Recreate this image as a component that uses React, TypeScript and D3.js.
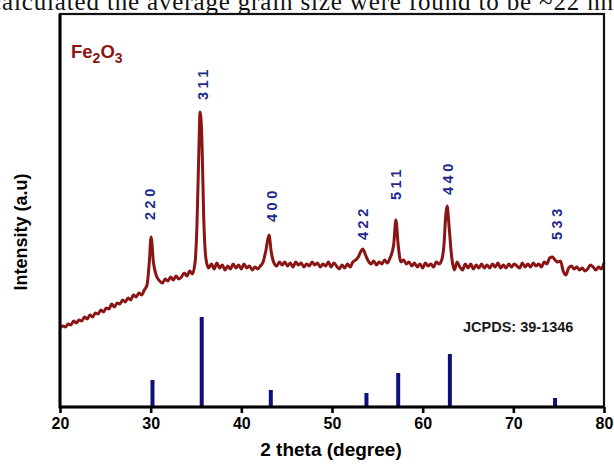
import { useEffect, useRef } from 'react'
import * as d3 from 'd3'

// XRD pattern (2θ in degrees, intensity in a.u.)
const xrdTheta = [
  20.0, 20.3, 20.6, 20.9, 21.2, 21.5, 21.8, 22.1, 22.4, 22.7, 23.0, 23.3, 23.6, 23.9, 24.2, 24.5,
  24.8, 25.1, 25.4, 25.7, 26.0, 26.3, 26.6, 26.9, 27.2, 27.5, 27.8, 28.1, 28.4, 28.7, 29.0, 29.3,
  29.6, 29.85, 30.05, 30.3, 30.6, 30.9, 31.3, 31.6, 31.9, 32.2, 32.5, 32.8, 33.1, 33.4, 33.7, 34.0,
  34.3, 34.6, 34.9, 35.1, 35.3, 35.45, 35.65, 35.85, 36.1, 36.4, 36.7, 37.0, 37.3, 37.6, 37.9, 38.2,
  38.5, 38.8, 39.1, 39.4, 39.7, 40.0, 40.3, 40.6, 40.9, 41.2, 41.5, 41.8, 42.1, 42.4, 42.7, 43.05,
  43.3, 43.6, 43.9, 44.2, 44.5, 44.8, 45.1, 45.4, 45.7, 46.0, 46.3, 46.6, 46.9, 47.2, 47.5, 47.8,
  48.1, 48.4, 48.7, 49.0, 49.3, 49.6, 49.9, 50.2, 50.5, 50.8, 51.1, 51.4, 51.7, 52.0, 52.3, 52.6,
  52.9, 53.15, 53.4, 53.7, 54.0, 54.3, 54.6, 54.9, 55.2, 55.5, 55.8, 56.1, 56.4, 56.8, 57.05, 57.3,
  57.6, 57.9, 58.2, 58.5, 58.8, 59.1, 59.4, 59.7, 60.0, 60.3, 60.6, 60.9, 61.2, 61.5, 61.8, 62.1,
  62.35, 62.55, 62.7, 62.9, 63.2, 63.5, 63.8, 64.1, 64.4, 64.7, 65.0, 65.3, 65.6, 65.9, 66.2, 66.5,
  66.8, 67.1, 67.4, 67.7, 68.0, 68.3, 68.6, 68.9, 69.2, 69.5, 69.8, 70.1, 70.4, 70.7, 71.0, 71.3,
  71.6, 71.9, 72.2, 72.5, 72.8, 73.1, 73.4, 73.7, 74.0, 74.3, 74.6, 74.9, 75.2, 75.5, 75.8, 76.1,
  76.4, 76.7, 77.0, 77.3, 77.6, 77.9, 78.2, 78.5, 78.8, 79.1, 79.4, 79.7, 80.0,
]
const xrdIntensity = [
  79, 81, 80, 83, 82, 86, 84, 87, 86, 90, 88, 92, 90, 94, 93, 97,
  95, 99, 98, 103, 100, 104, 103, 107, 105, 109, 107, 112, 110, 114, 112, 117,
  122, 145, 170, 145, 132, 127, 124, 128, 126, 130, 127, 131, 128, 130, 134, 131,
  136, 133, 145, 180, 250, 295, 268, 190, 148, 139, 143, 138, 144, 139, 142, 137,
  141, 138, 143, 139, 142, 138, 143, 139, 141, 137, 140, 138, 141, 145, 156, 172,
  155, 144, 141, 145, 142, 145, 141, 144, 140, 145, 142, 144, 140, 143, 141, 145,
  142, 144, 140, 143, 141, 145, 140, 144, 141, 138, 142, 139, 143, 140, 145, 147,
  150, 155, 158, 152, 146, 143, 146, 142, 145, 143, 147, 144, 149, 162, 187, 162,
  145, 147, 143, 145, 141, 144, 140, 143, 139, 144, 141, 143, 140, 145, 143, 147,
  162, 192, 201, 182, 150, 137, 145, 140, 137, 143, 139, 143, 138, 142, 139, 143,
  139, 142, 139, 143, 140, 144, 139, 142, 139, 143, 140, 143, 141, 139, 144, 140,
  143, 140, 144, 141, 143, 140, 145, 143, 149, 150, 147, 145, 146, 136, 132, 139,
  141, 138, 140, 137, 139, 136, 138, 142, 140, 137, 140, 138, 144,
]

// JCPDS 39-1346 reference lines
const stickTheta = [30.2, 35.63, 43.25, 53.8, 57.3, 63.0, 74.6]
const stickIntensity = [27, 90, 17, 14, 34, 53, 9]

// hkl labels and the intensity level where each label starts
const hklLabels = ['220', '311', '400', '422', '511', '440', '533']
const labelTheta = [29.95, 35.75, 43.35, 53.4, 57.05, 62.8, 74.8]
const labelLevel = [187, 307, 185, 167, 207, 212, 167]

const xTicks = [20, 30, 40, 50, 60, 70, 80]

const App = () => {
  const svgRef = useRef<SVGSVGElement | null>(null)

  useEffect(() => {
    const svg = d3.select(svgRef.current)
    svg.selectAll('*').remove()

    const width = 614
    const height = 465
    const left = 60
    const right = 604
    const top = 14
    const bottom = 407

    const xScale = d3.scaleLinear().domain([20, 80]).range([left, right])
    const yScale = d3.scaleLinear().domain([0, 393]).range([bottom, top])

    svg.attr('width', width).attr('height', height).attr('viewBox', `0 0 ${width} ${height}`)
    svg.append('rect').attr('width', width).attr('height', height).attr('fill', '#fff')

    // line of body text above the figure (cropped in the original scan)
    svg
      .append('text')
      .attr('x', -10)
      .attr('y', 10)
      .attr('textLength', 630)
      .attr('lengthAdjust', 'spacing')
      .attr('font-family', '"Liberation Serif", "Times New Roman", serif')
      .attr('font-size', 25)
      .attr('fill', '#111')
      .text('calculated the average grain size were found to be ~22 nm')

    // reference sticks
    svg
      .append('g')
      .selectAll('rect')
      .data(stickTheta)
      .join('rect')
      .attr('x', (d) => xScale(d) - 2)
      .attr('y', (_, i) => yScale(stickIntensity[i]))
      .attr('width', 4)
      .attr('height', (_, i) => bottom - yScale(stickIntensity[i]))
      .attr('fill', '#10107a')

    // measured pattern
    const points = xrdTheta.map((t, i) => [t, xrdIntensity[i]] as [number, number])
    const line = d3
      .line<[number, number]>()
      .x((d) => xScale(d[0]))
      .y((d) => yScale(d[1]))
      .curve(d3.curveMonotoneX)

    svg
      .append('path')
      .datum(points)
      .attr('fill', 'none')
      .attr('stroke', '#8b1414')
      .attr('stroke-width', 3)
      .attr('stroke-linejoin', 'round')
      .attr('d', line)

    // hkl labels
    svg
      .append('g')
      .selectAll('text')
      .data(hklLabels)
      .join('text')
      .attr('transform', (_, i) => `translate(${xScale(labelTheta[i])},${yScale(labelLevel[i])}) rotate(-90)`)
      .attr('dominant-baseline', 'central')
      .attr('font-family', 'Arial, "Liberation Sans", sans-serif')
      .attr('font-weight', 'bold')
      .attr('font-size', 14.5)
      .attr('letter-spacing', 3.5)
      .attr('fill', '#1f2a8c')
      .text((d) => d)

    // frame
    svg
      .append('rect')
      .attr('x', left)
      .attr('y', top)
      .attr('width', right - left)
      .attr('height', bottom - top)
      .attr('fill', 'none')
      .attr('stroke', '#111')
      .attr('stroke-width', 2.2)
    svg
      .append('path')
      .attr('d', `M${left},${top}V${bottom}H${right}`)
      .attr('fill', 'none')
      .attr('stroke', '#000')
      .attr('stroke-width', 3)

    // x axis ticks and labels
    const xAxis = d3
      .axisBottom(xScale)
      .tickValues(xTicks)
      .tickSize(6)
      .tickPadding(5)
      .tickFormat((d) => String(d))
    const axisG = svg.append('g').attr('transform', `translate(0,${bottom})`).call(xAxis)
    axisG.select('.domain').remove()
    axisG.selectAll('line').attr('stroke', '#000').attr('stroke-width', 2.6)
    axisG
      .selectAll('text')
      .attr('fill', '#000')
      .attr('font-family', 'Arial, "Liberation Sans", sans-serif')
      .attr('font-weight', 'bold')
      .attr('font-size', 16)

    svg
      .append('text')
      .attr('x', 331)
      .attr('y', 456)
      .attr('text-anchor', 'middle')
      .attr('font-family', 'Arial, "Liberation Sans", sans-serif')
      .attr('font-weight', 'bold')
      .attr('font-size', 19)
      .attr('fill', '#000')
      .text('2 theta (degree)')

    svg
      .append('text')
      .attr('transform', 'translate(27,232) rotate(-90)')
      .attr('text-anchor', 'middle')
      .attr('font-family', 'Arial, "Liberation Sans", sans-serif')
      .attr('font-weight', 'bold')
      .attr('font-size', 18)
      .attr('fill', '#000')
      .text('Intensity (a.u)')

    // sample name
    const fe = svg
      .append('text')
      .attr('x', 71)
      .attr('y', 58)
      .attr('font-family', 'Arial, "Liberation Sans", sans-serif')
      .attr('font-weight', 'bold')
      .attr('font-size', 18.5)
      .attr('fill', '#8b1414')
    fe.append('tspan').text('Fe')
    fe.append('tspan').attr('dy', 5).attr('font-size', 14).text('2')
    fe.append('tspan').attr('dy', -5).text('O')
    fe.append('tspan').attr('dy', 5).attr('font-size', 14).text('3')

    svg
      .append('text')
      .attr('x', 463)
      .attr('y', 332)
      .attr('font-family', 'Arial, "Liberation Sans", sans-serif')
      .attr('font-weight', 'bold')
      .attr('font-size', 14.5)
      .attr('fill', '#1a1a1a')
      .text('JCPDS: 39-1346')
  }, [])

  return (
    <div style={{ position: 'fixed', left: 0, top: 0 }}>
      <svg ref={svgRef} width={614} height={465} style={{ display: 'block' }} />
    </div>
  )
}

export default App
